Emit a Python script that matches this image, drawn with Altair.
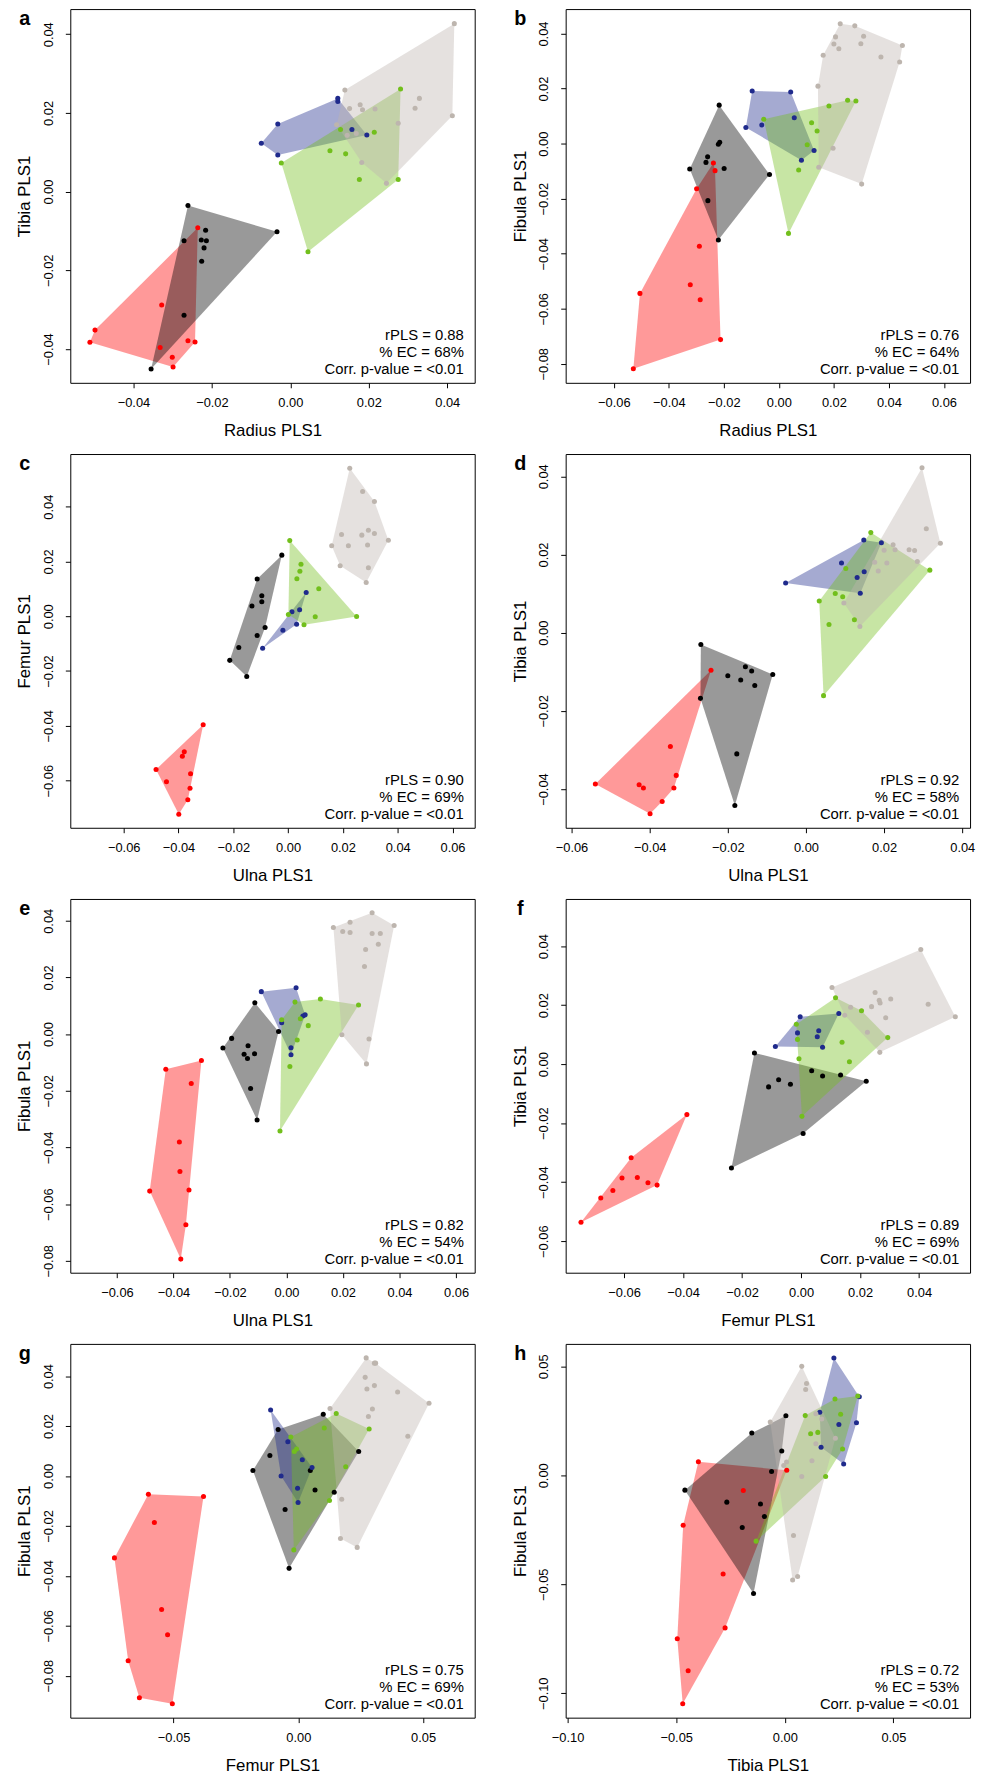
import altair as alt
import pandas as pd

GROUPS = ["red", "black", "blue", "green", "grey"]
COLORS = ["#FF0000", "#000000", "#1F2A8C", "#72BF1C", "#BDB5AE"]

# ---- panel a : Radius vs Tibia ----
a_red = [(-0.0236, -0.0092), (-0.0328, -0.0288), (-0.0498, -0.0352), (-0.0511, -0.0383), (-0.0332, -0.0396),
         (-0.0261, -0.0379), (-0.0243, -0.0382), (-0.0301, -0.0421), (-0.0299, -0.0446)]
a_black = [(-0.0261, -0.0035), (-0.0216, -0.0098), (-0.0034, -0.0102), (-0.0271, -0.0125), (-0.0227, -0.0123),
           (-0.0214, -0.0125), (-0.0220, -0.0143), (-0.0226, -0.0177), (-0.0271, -0.0314), (-0.0355, -0.0451)]
a_blue = [(0.0121, 0.0237), (0.0121, 0.0229), (-0.0032, 0.0172), (-0.0074, 0.0123), (-0.0032, 0.0093),
          (0.0157, 0.0158), (0.0195, 0.0144)]
a_green = [(0.0281, 0.0261), (0.0128, 0.0158), (0.0214, 0.0151), (0.0101, 0.0104), (0.0141, 0.0096),
           (-0.0023, 0.0073), (0.0176, 0.0031), (0.0275, 0.0031), (0.0045, -0.0153)]
a_grey = [(0.0418, 0.0427), (0.0139, 0.0258), (0.0329, 0.0237), (0.0178, 0.0221), (0.0151, 0.0211),
          (0.0184, 0.0208), (0.0216, 0.0210), (0.0318, 0.0212), (0.0413, 0.0193), (0.0275, 0.0174),
          (0.0118, 0.0170), (0.0145, 0.0143), (0.0168, 0.0148), (0.0182, 0.0074), (0.0245, 0.0021)]

# ---- panel b : Radius vs Fibula ----
b_red = [(-0.0238, -0.0070), (-0.0232, -0.0098), (-0.0299, -0.0164), (-0.0289, -0.0373), (-0.0322, -0.0513),
         (-0.0505, -0.0544), (-0.0286, -0.0567), (-0.0212, -0.0712), (-0.0529, -0.0818)]
b_black = [(-0.0217, 0.0140), (-0.0215, 0.0005), (-0.0220, -0.0002), (-0.0259, -0.0048), (-0.0265, -0.0068),
           (-0.0324, -0.0092), (-0.0199, -0.0090), (-0.0034, -0.0112), (-0.0258, -0.0207), (-0.0220, -0.0350)]
b_blue = [(-0.0097, 0.0191), (0.0043, 0.0188), (0.0056, 0.0094), (-0.0120, 0.0059), (-0.0062, 0.0068),
          (0.0128, -0.0025), (0.0082, -0.0060)]
b_green = [(0.0250, 0.0158), (0.0280, 0.0155), (0.0182, 0.0137), (-0.0055, 0.0089), (0.0119, 0.0076),
           (0.0139, 0.0046), (0.0103, -0.0004), (0.0072, -0.0096), (0.0035, -0.0326)]
b_grey = [(0.0223, 0.0436), (0.0276, 0.0428), (0.0206, 0.0388), (0.0308, 0.0390), (0.0200, 0.0362),
          (0.0298, 0.0363), (0.0218, 0.0345), (0.0449, 0.0357), (0.0161, 0.0321), (0.0371, 0.0315),
          (0.0439, 0.0297), (0.0142, 0.0209), (0.0197, -0.0017), (0.0145, -0.0086), (0.0301, -0.0147)]

# ---- panel c : Ulna vs Femur ----
c_red = [(-0.0310, -0.0396), (-0.0379, -0.0495), (-0.0386, -0.0511), (-0.0482, -0.0559), (-0.0356, -0.0575),
         (-0.0444, -0.0604), (-0.0358, -0.0628), (-0.0366, -0.0670), (-0.0399, -0.0723)]
c_black = [(-0.0023, 0.0223), (-0.0113, 0.0136), (-0.0096, 0.0075), (-0.0096, 0.0053), (-0.0132, 0.0037),
           (-0.0084, -0.0041), (-0.0113, -0.0070), (-0.0180, -0.0114), (-0.0213, -0.0161), (-0.0151, -0.0220)]
c_blue = [(0.0066, 0.0087), (0.0042, 0.0024), (0.0014, 0.0016), (0.0031, -0.0029), (-0.0019, -0.0051),
          (-0.0093, -0.0117)]
c_green = [(0.0006, 0.0276), (0.0047, 0.0190), (0.0043, 0.0164), (0.0032, 0.0137), (0.0112, 0.0100),
           (0.0001, 0.0006), (0.0099, -0.0002), (0.0250, -0.0001), (0.0058, -0.0031)]
c_grey = [(0.0225, 0.0540), (0.0272, 0.0455), (0.0315, 0.0419), (0.0293, 0.0314), (0.0269, 0.0296),
          (0.0195, 0.0298), (0.0315, 0.0302), (0.0366, 0.0277), (0.0159, 0.0257), (0.0220, 0.0257),
          (0.0290, 0.0260), (0.0190, 0.0184), (0.0293, 0.0177), (0.0285, 0.0123)]

# ---- panel d : Ulna vs Tibia ----
d_red = [(-0.0243, -0.0096), (-0.0347, -0.0291), (-0.0332, -0.0365), (-0.0539, -0.0387), (-0.0427, -0.0389),
         (-0.0416, -0.0397), (-0.0338, -0.0397), (-0.0368, -0.0432), (-0.0399, -0.0463)]
d_black = [(-0.0269, -0.0030), (-0.0155, -0.0087), (-0.0139, -0.0098), (-0.0085, -0.0107), (-0.0200, -0.0110),
           (-0.0167, -0.0121), (-0.0131, -0.0135), (-0.0270, -0.0168), (-0.0177, -0.0310), (-0.0182, -0.0442)]
d_blue = [(0.0148, 0.0237), (0.0193, 0.0230), (0.0091, 0.0178), (0.0149, 0.0156), (0.0131, 0.0141),
          (-0.0052, 0.0127), (0.0139, 0.0101)]
d_green = [(0.0166, 0.0256), (0.0102, 0.0164), (0.0317, 0.0160), (0.0075, 0.0100), (0.0094, 0.0092),
           (0.0034, 0.0081), (0.0124, 0.0033), (0.0059, 0.0021), (0.0045, -0.0161)]
d_grey = [(0.0297, 0.0422), (0.0308, 0.0266), (0.0344, 0.0229), (0.0223, 0.0225), (0.0200, 0.0211),
          (0.0228, 0.0212), (0.0264, 0.0212), (0.0278, 0.0210), (0.0176, 0.0180), (0.0207, 0.0178),
          (0.0285, 0.0182), (0.0185, 0.0158), (0.0097, 0.0076), (0.0138, 0.0016)]

# ---- panel e : Ulna vs Fibula ----
e_red = [(-0.0301, -0.0093), (-0.0427, -0.0124), (-0.0337, -0.0174), (-0.0379, -0.0381), (-0.0377, -0.0485),
         (-0.0484, -0.0554), (-0.0345, -0.0550), (-0.0356, -0.0673), (-0.0374, -0.0794)]
e_black = [(-0.0112, 0.0111), (-0.0028, 0.0009), (-0.0194, -0.0015), (-0.0225, -0.0049), (-0.0136, -0.0041),
           (-0.0150, -0.0071), (-0.0113, -0.0069), (-0.0138, -0.0086), (-0.0127, -0.0192), (-0.0104, -0.0303)]
e_blue = [(-0.0089, 0.0150), (0.0034, 0.0164), (0.0058, 0.0064), (0.0066, 0.0068), (-0.0017, 0.0040),
          (0.0016, -0.0048), (0.0016, -0.0073)]
e_green = [(0.0120, 0.0124), (0.0030, 0.0113), (0.0255, 0.0103), (-0.0017, 0.0051), (0.0049, 0.0054),
           (0.0077, 0.0030), (0.0038, -0.0021), (0.0012, -0.0114), (-0.0023, -0.0342)]
e_grey = [(0.0303, 0.0428), (0.0225, 0.0395), (0.0166, 0.0376), (0.0381, 0.0383), (0.0199, 0.0362),
          (0.0225, 0.0359), (0.0303, 0.0355), (0.0332, 0.0355), (0.0325, 0.0317), (0.0280, 0.0299),
          (0.0276, 0.0239), (0.0196, -0.0002), (0.0292, -0.0017), (0.0283, -0.0105)]

# ---- panel f : Femur vs Tibia ----
f_red = [(-0.0387, -0.0171), (-0.0576, -0.0317), (-0.0607, -0.0386), (-0.0555, -0.0384), (-0.0519, -0.0402),
         (-0.0488, -0.0410), (-0.0638, -0.0428), (-0.0679, -0.0454), (-0.0746, -0.0536)]
f_black = [(-0.0158, 0.0038), (0.0036, -0.0022), (0.0073, -0.0040), (0.0134, -0.0037), (0.0221, -0.0058),
           (-0.0076, -0.0053), (-0.0036, -0.0068), (-0.0110, -0.0077), (0.0007, -0.0235), (-0.0236, -0.0352)]
f_blue = [(-0.0003, 0.0161), (0.0128, 0.0172), (-0.0012, 0.0106), (0.0060, 0.0113), (0.0055, 0.0093),
          (-0.0087, 0.0060), (0.0073, 0.0057)]
f_green = [(0.0117, 0.0225), (0.0205, 0.0181), (-0.0016, 0.0135), (-0.0012, 0.0084), (0.0139, 0.0074),
           (0.0294, 0.0090), (-0.0007, 0.0018), (0.0164, 0.0008), (0.0003, -0.0177)]
f_grey = [(0.0406, 0.0389), (0.0105, 0.0260), (0.0251, 0.0243), (0.0265, 0.0217), (0.0268, 0.0207),
          (0.0304, 0.0221), (0.0431, 0.0203), (0.0239, 0.0195), (0.0168, 0.0193), (0.0148, 0.0166),
          (0.0287, 0.0157), (0.0523, 0.0161), (0.0225, 0.0108), (0.0267, 0.0040)]

# ---- panel g : Femur vs Fibula ----
g_red = [(-0.0601, -0.0073), (-0.0380, -0.0082), (-0.0577, -0.0186), (-0.0737, -0.0328), (-0.0548, -0.0535),
         (-0.0524, -0.0636), (-0.0682, -0.0740), (-0.0637, -0.0888), (-0.0505, -0.0912)]
g_black = [(0.0100, 0.0247), (-0.0081, 0.0186), (-0.0114, 0.0082), (0.0242, 0.0098), (-0.0182, 0.0022),
           (0.0048, 0.0022), (0.0067, -0.0056), (0.0144, -0.0065), (-0.0053, -0.0134), (-0.0037, -0.0370)]
g_blue = [(-0.0111, 0.0264), (-0.0042, 0.0137), (0.0016, 0.0065), (0.0055, 0.0034), (-0.0069, 0.0000),
          (-0.0003, -0.0049), (-0.0001, -0.0106)]
g_green = [(0.0152, 0.0250), (0.0104, 0.0192), (0.0284, 0.0188), (-0.0030, 0.0156), (-0.0007, 0.0108),
           (-0.0016, 0.0098), (0.0190, 0.0037), (0.0125, -0.0098), (-0.0018, -0.0296)]
g_grey = [(0.0272, 0.0473), (0.0305, 0.0452), (0.0310, 0.0452), (0.0268, 0.0395), (0.0305, 0.0362),
          (0.0275, 0.0348), (0.0398, 0.0336), (0.0524, 0.0291), (0.0127, 0.0270), (0.0297, 0.0268),
          (0.0281, 0.0238), (0.0439, 0.0159), (0.0174, -0.0093), (0.0169, -0.0250), (0.0236, -0.0286)]

# ---- panel h : Tibia vs Fibula ----
h_red = [(-0.0398, 0.0062), (0.0009, 0.0023), (-0.0191, -0.0070), (-0.0468, -0.0229), (-0.0284, -0.0453),
         (-0.0275, -0.0700), (-0.0495, -0.0750), (-0.0445, -0.0897), (-0.0470, -0.1048)]
h_black = [(0.0005, 0.0273), (-0.0152, 0.0194), (-0.0014, 0.0112), (-0.0061, 0.0018), (-0.0460, -0.0068),
           (-0.0267, -0.0123), (-0.0112, -0.0132), (-0.0094, -0.0189), (-0.0196, -0.0239), (-0.0144, -0.0542)]
h_blue = [(0.0226, 0.0538), (0.0343, 0.0361), (0.0161, 0.0289), (0.0249, 0.0233), (0.0330, 0.0241),
          (0.0167, 0.0129), (0.0271, 0.0052)]
h_green = [(0.0336, 0.0364), (0.0231, 0.0350), (0.0094, 0.0274), (0.0257, 0.0280), (0.0152, 0.0197),
           (0.0119, 0.0191), (0.0266, 0.0121), (0.0188, -0.0005), (-0.0132, -0.0302)]
h_grey = [(0.0078, 0.0500), (0.0100, 0.0421), (0.0096, 0.0394), (-0.0067, 0.0245), (0.0143, 0.0283),
          (0.0170, 0.0258), (0.0233, 0.0170), (0.0143, 0.0145), (0.0125, 0.0067), (0.0008, 0.0061),
          (-0.0005, 0.0045), (0.0078, -0.0005), (0.0040, -0.0276), (0.0059, -0.0464), (0.0036, -0.0480)]

# panel settings: letter, x title, y title, x range, y range, x ticks, y ticks, rPLS, %EC
T2 = [-0.06, -0.04, -0.02, 0.0, 0.02, 0.04, 0.06]
PANELS = [
    ("a", [a_red, a_black, a_blue, a_green, a_grey], "Radius PLS1", "Tibia PLS1",
     [-0.0561, 0.0470], [-0.0486, 0.0464], [-0.04, -0.02, 0.0, 0.02, 0.04], [-0.04, -0.02, 0.0, 0.02, 0.04], "0.88", "68%"),
    ("b", [b_red, b_black, b_blue, b_green, b_grey], "Radius PLS1", "Fibula PLS1",
     [-0.0775, 0.0695], [-0.0869, 0.0489], T2, [-0.08, -0.06, -0.04, -0.02, 0.0, 0.02, 0.04], "0.76", "64%"),
    ("c", [c_red, c_black, c_blue, c_green, c_grey], "Ulna PLS1", "Femur PLS1",
     [-0.0795, 0.0681], [-0.0772, 0.0592], T2, [-0.06, -0.04, -0.02, 0.0, 0.02, 0.04], "0.90", "69%"),
    ("d", [d_red, d_black, d_blue, d_green, d_grey], "Ulna PLS1", "Tibia PLS1",
     [-0.0615, 0.0420], [-0.0499, 0.0457], [-0.06, -0.04, -0.02, 0.0, 0.02, 0.04], [-0.04, -0.02, 0.0, 0.02, 0.04], "0.92", "58%"),
    ("e", [e_red, e_black, e_blue, e_green, e_grey], "Ulna PLS1", "Fibula PLS1",
     [-0.0765, 0.0666], [-0.0842, 0.0477], T2, [-0.08, -0.06, -0.04, -0.02, 0.0, 0.02, 0.04], "0.82", "54%"),
    ("f", [f_red, f_black, f_blue, f_green, f_grey], "Femur PLS1", "Tibia PLS1",
     [-0.0798, 0.0573], [-0.0707, 0.0560], [-0.06, -0.04, -0.02, 0.0, 0.02, 0.04], [-0.06, -0.04, -0.02, 0.0, 0.02, 0.04], "0.89", "69%"),
    ("g", [g_red, g_black, g_blue, g_green, g_grey], "Femur PLS1", "Fibula PLS1",
     [-0.0914, 0.0707], [-0.0968, 0.0529], [-0.05, 0.0, 0.05], [-0.08, -0.06, -0.04, -0.02, 0.0, 0.02, 0.04], "0.75", "69%"),
    ("h", [h_red, h_black, h_blue, h_green, h_grey], "Tibia PLS1", "Fibula PLS1",
     [-0.1009, 0.0853], [-0.1112, 0.0603], [-0.10, -0.05, 0.0, 0.05], [-0.10, -0.05, 0.0, 0.05], "0.72", "53%"),
]

W, H = 409, 378
FONT = "Liberation Sans"


def convex_hull(points):
    pts = sorted(set(points))
    if len(pts) <= 2:
        return pts

    def cross(o, a, b):
        return (a[0] - o[0]) * (b[1] - o[1]) - (a[1] - o[1]) * (b[0] - o[0])

    lower, upper = [], []
    for p in pts:
        while len(lower) >= 2 and cross(lower[-2], lower[-1], p) <= 0:
            lower.pop()
        lower.append(p)
    for p in reversed(pts):
        while len(upper) >= 2 and cross(upper[-2], upper[-1], p) <= 0:
            upper.pop()
        upper.append(p)
    return lower[:-1] + upper[:-1]


def make_panel(letter, groups, xtitle, ytitle, xdom, ydom, xticks, yticks, rpls, ec):
    xenc = alt.X("x:Q", scale=alt.Scale(domain=xdom, nice=False, zero=False),
                 axis=alt.Axis(values=xticks, format=".2f", title=xtitle))
    yenc = alt.Y("y:Q", scale=alt.Scale(domain=ydom, nice=False, zero=False),
                 axis=alt.Axis(values=yticks, format=".2f", title=ytitle))
    layers = []
    pt_rows = []
    for g, col, pts in zip(GROUPS, COLORS, groups):
        hull = convex_hull(pts)
        hdf = pd.DataFrame({"x": [p[0] for p in hull], "y": [p[1] for p in hull],
                            "k": list(range(len(hull)))})
        layers.append(
            alt.Chart(hdf).mark_line(filled=True, color=col, fillOpacity=0.4, strokeWidth=0,
                                     interpolate="linear-closed")
            .encode(x=xenc, y=yenc, order="k:Q")
        )
        for p in pts:
            pt_rows.append({"grp": g, "x": p[0], "y": p[1]})
    layers.append(
        alt.Chart(pd.DataFrame(pt_rows)).mark_circle(size=26, opacity=1)
        .encode(x=xenc, y=yenc,
                color=alt.Color("grp:N", scale=alt.Scale(domain=GROUPS, range=COLORS), legend=None))
    )
    lines = [f"rPLS = {rpls}", f"% EC = {ec}", "Corr. p-value = <0.01"]
    for i, s in enumerate(lines):
        layers.append(
            alt.Chart(pd.DataFrame({"t": [s]})).mark_text(align="right", baseline="alphabetic",
                                                          fontSize=15, font=FONT, color="black")
            .encode(text="t:N", x=alt.value(W - 11), y=alt.value(H - 43 + i * 17))
        )
    layers.append(
        alt.Chart(pd.DataFrame({"t": [letter]})).mark_text(align="center", baseline="alphabetic",
                                                           fontSize=20, fontWeight="bold", font=FONT,
                                                           color="black")
        .encode(text="t:N", x=alt.value(-46), y=alt.value(16))
    )
    return alt.layer(*layers).properties(width=W, height=H)


panels = [make_panel(*p) for p in PANELS]
rows = [alt.hconcat(panels[i], panels[i + 1], spacing=35) for i in range(0, 8, 2)]

chart = (
    alt.vconcat(*rows, spacing=14)
    .properties(padding={"left": 7, "top": -10, "right": 0, "bottom": 0}, background="white")
    .configure_view(stroke="black", strokeWidth=1)
    .configure_axis(grid=False, domain=False, ticks=True, tickSize=5, tickColor="black", tickWidth=1,
                    labelFont=FONT, labelFontSize=13, labelColor="black", labelOverlap=False,
                    labelFlush=False, titleFont=FONT, titleFontSize=17, titleFontWeight="normal",
                    titleColor="black")
    .configure_axisX(labelPadding=9, titlePadding=13)
    .configure_axisY(labelAngle=270, labelAlign="center", labelBaseline="bottom", labelPadding=10,
                     titlePadding=9)
)

chart.save("out.html", embed_options={"renderer": "svg", "actions": False})
